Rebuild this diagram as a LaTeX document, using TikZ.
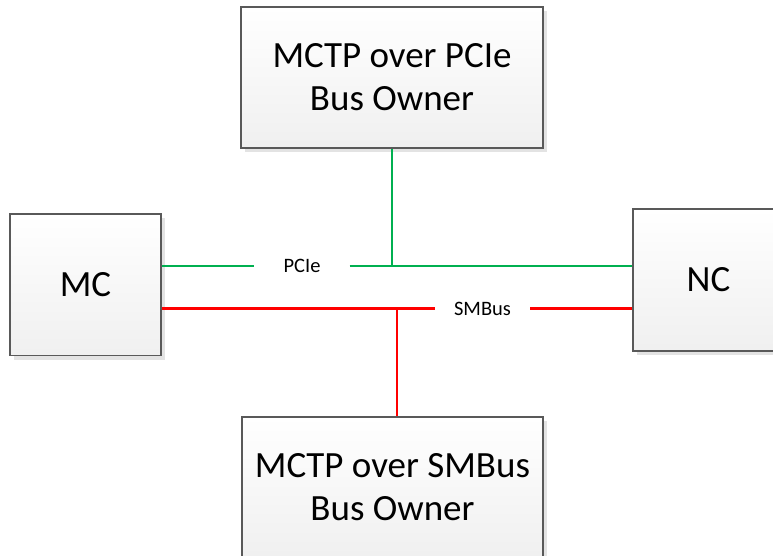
\documentclass[tikz,border=0pt]{standalone}
\usepackage{fontspec}
\setmainfont{Carlito}
\usetikzlibrary{positioning,shadows,calc}

\definecolor{busgreen}{HTML}{00B050}
\definecolor{busred}{HTML}{FF0000}
\definecolor{boxline}{HTML}{595959}

\tikzset{
  unit/.style={draw=boxline, line width=1.3pt, top color=white, bottom color=gray!12,
    align=center, font=\fontsize{37}{43}\selectfont, inner sep=0pt,
    drop shadow={shadow xshift=4pt, shadow yshift=-4pt, fill=gray!22, opacity=1}},
  buslabel/.style={fill=white, font=\fontsize{20.5}{24}\selectfont, inner ysep=4pt},
  pcie/.style={busgreen, line width=2.8pt},
  smbus/.style={busred, line width=2.8pt}
}

\begin{document}
\begin{tikzpicture}[x=1pt, y=-1pt]

  % page frame --------------------------------------------
  \clip (0,0) rectangle (773,556);
  \fill[white] (0,0) rectangle (773,556);

  % blocks --------------------------------------------------
  \node[unit, minimum width=302pt, minimum height=141pt] (pcieBO) at (392,77.5)
    {MCTP over PCIe\\Bus Owner};
  \node[unit, minimum width=301pt, minimum height=141pt] (smbusBO) at (392.5,487.5)
    {MCTP over SMBus\\Bus Owner};
  \node[unit, minimum width=151pt, minimum height=141.5pt] (mc) at (85.5,284.75) {MC};
  \node[unit, minimum width=151pt, minimum height=142pt] (nc) at (708.5,280) {NC};

  % bus taps
  \coordinate (pj) at (392,266);
  \coordinate (sj) at (397,308.5);

  % PCIe bus ------------------------------------------------
  \node[buslabel, inner xsep=29pt] (pcielbl) at (302,266) {PCIe};
  \draw[pcie] (mc.east |- pj) -- (pcielbl.west);
  \draw[pcie] (pcielbl.east) -- (pj -| nc.west);
  \draw[pcie] (pcieBO.south) -- (pj);

  % SMBus ---------------------------------------------------
  \node[buslabel, inner xsep=19pt] (smbuslbl) at (482.5,308.5) {SMBus};
  \draw[smbus] (mc.east |- sj) -- (smbuslbl.west);
  \draw[smbus] (smbuslbl.east) -- (sj -| nc.west);
  \draw[smbus] (sj) -- (sj |- smbusBO.north);

\end{tikzpicture}
\end{document}
